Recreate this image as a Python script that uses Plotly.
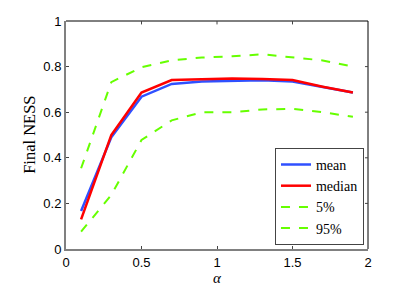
import plotly.graph_objects as go

alpha = [0.1, 0.3, 0.5, 0.7, 0.9, 1.1, 1.3, 1.5, 1.7, 1.9]
mean_vals = [0.167, 0.49, 0.668, 0.724, 0.735, 0.737, 0.740, 0.735, 0.71, 0.686]
median_vals = [0.13, 0.50, 0.686, 0.741, 0.745, 0.748, 0.746, 0.741, 0.712, 0.686]
p5_vals = [0.076, 0.237, 0.478, 0.564, 0.600, 0.600, 0.612, 0.615, 0.600, 0.580]
p95_vals = [0.354, 0.732, 0.797, 0.827, 0.840, 0.845, 0.854, 0.842, 0.827, 0.800]

x_ticks = [0, 0.5, 1, 1.5, 2]
x_tick_labels = ["0", "0.5", "1", "1.5", "2"]
y_ticks = [0, 0.2, 0.4, 0.6, 0.8, 1]
y_tick_labels = ["0", "0.2", "0.4", "0.6", "0.8", "1"]

blue = "#2f50ff"
red = "#ff0000"
green = "#66ff00"

fig = go.Figure()
fig.add_trace(go.Scatter(x=alpha, y=mean_vals, mode="lines", name="mean",
                         line=dict(color=blue, width=2.5)))
fig.add_trace(go.Scatter(x=alpha, y=median_vals, mode="lines", name="median",
                         line=dict(color=red, width=2.5)))
fig.add_trace(go.Scatter(x=alpha, y=p5_vals, mode="lines", name="5%",
                         line=dict(color=green, width=2, dash="dash")))
fig.add_trace(go.Scatter(x=alpha, y=p95_vals, mode="lines", name="95%",
                         line=dict(color=green, width=2, dash="dash")))

tick_font = dict(family="Liberation Sans, Arial, sans-serif", size=13, color="black")
serif = "Liberation Serif, DejaVu Serif, serif"

fig.update_layout(
    width=399, height=280,
    margin=dict(l=58, r=39, t=13, b=39, autoexpand=False),
    plot_bgcolor="white", paper_bgcolor="white",
    showlegend=True,
    legend=dict(x=0.692, y=0.018, xanchor="left", yanchor="bottom",
                bgcolor="white", bordercolor="#444", borderwidth=1,
                font=dict(family=serif, size=14, color="black"),
                tracegroupgap=0, itemwidth=30),
    xaxis=dict(range=[0, 2], tickvals=x_ticks, ticktext=x_tick_labels,
               ticks="inside", ticklen=3, tickcolor="#444", automargin=False,
               showgrid=False, zeroline=False,
               showline=True, linecolor="#808080", linewidth=2, mirror=False,
               tickfont=tick_font),
    yaxis=dict(range=[0, 1], tickvals=y_ticks, ticktext=y_tick_labels,
               ticks="inside", ticklen=3, tickcolor="#444", automargin=False,
               showgrid=False, zeroline=False,
               showline=True, linecolor="#808080", linewidth=2, mirror=False,
               tickfont=tick_font),
    shapes=[
        dict(type="line", xref="paper", yref="paper", x0=0, x1=1, y0=1, y1=1,
             line=dict(color="black", width=1)),
        dict(type="line", xref="paper", yref="paper", x0=1, x1=1, y0=0, y1=1,
             line=dict(color="black", width=1)),
    ],
    annotations=[
        dict(text="Final NESS", xref="paper", yref="paper", x=-0.123, y=0.5,
             xanchor="center", yanchor="middle", textangle=-90, showarrow=False,
             font=dict(family=serif, size=16.5, color="black")),
        dict(text="<i>α</i>", xref="paper", yref="paper", x=0.5, y=-0.085,
             xanchor="center", yanchor="top", showarrow=False,
             font=dict(family=serif, size=15, color="black")),
    ],
)

for xv in x_ticks[1:-1]:
    fig.add_shape(type="line", xref="x", yref="paper", x0=xv, x1=xv, y0=1, y1=0.985,
                  line=dict(color="#444", width=1))
for yv in y_ticks[1:-1]:
    fig.add_shape(type="line", xref="paper", yref="y", x0=1, x1=0.99, y0=yv, y1=yv,
                  line=dict(color="#444", width=1))

fig.write_html("out.html")
